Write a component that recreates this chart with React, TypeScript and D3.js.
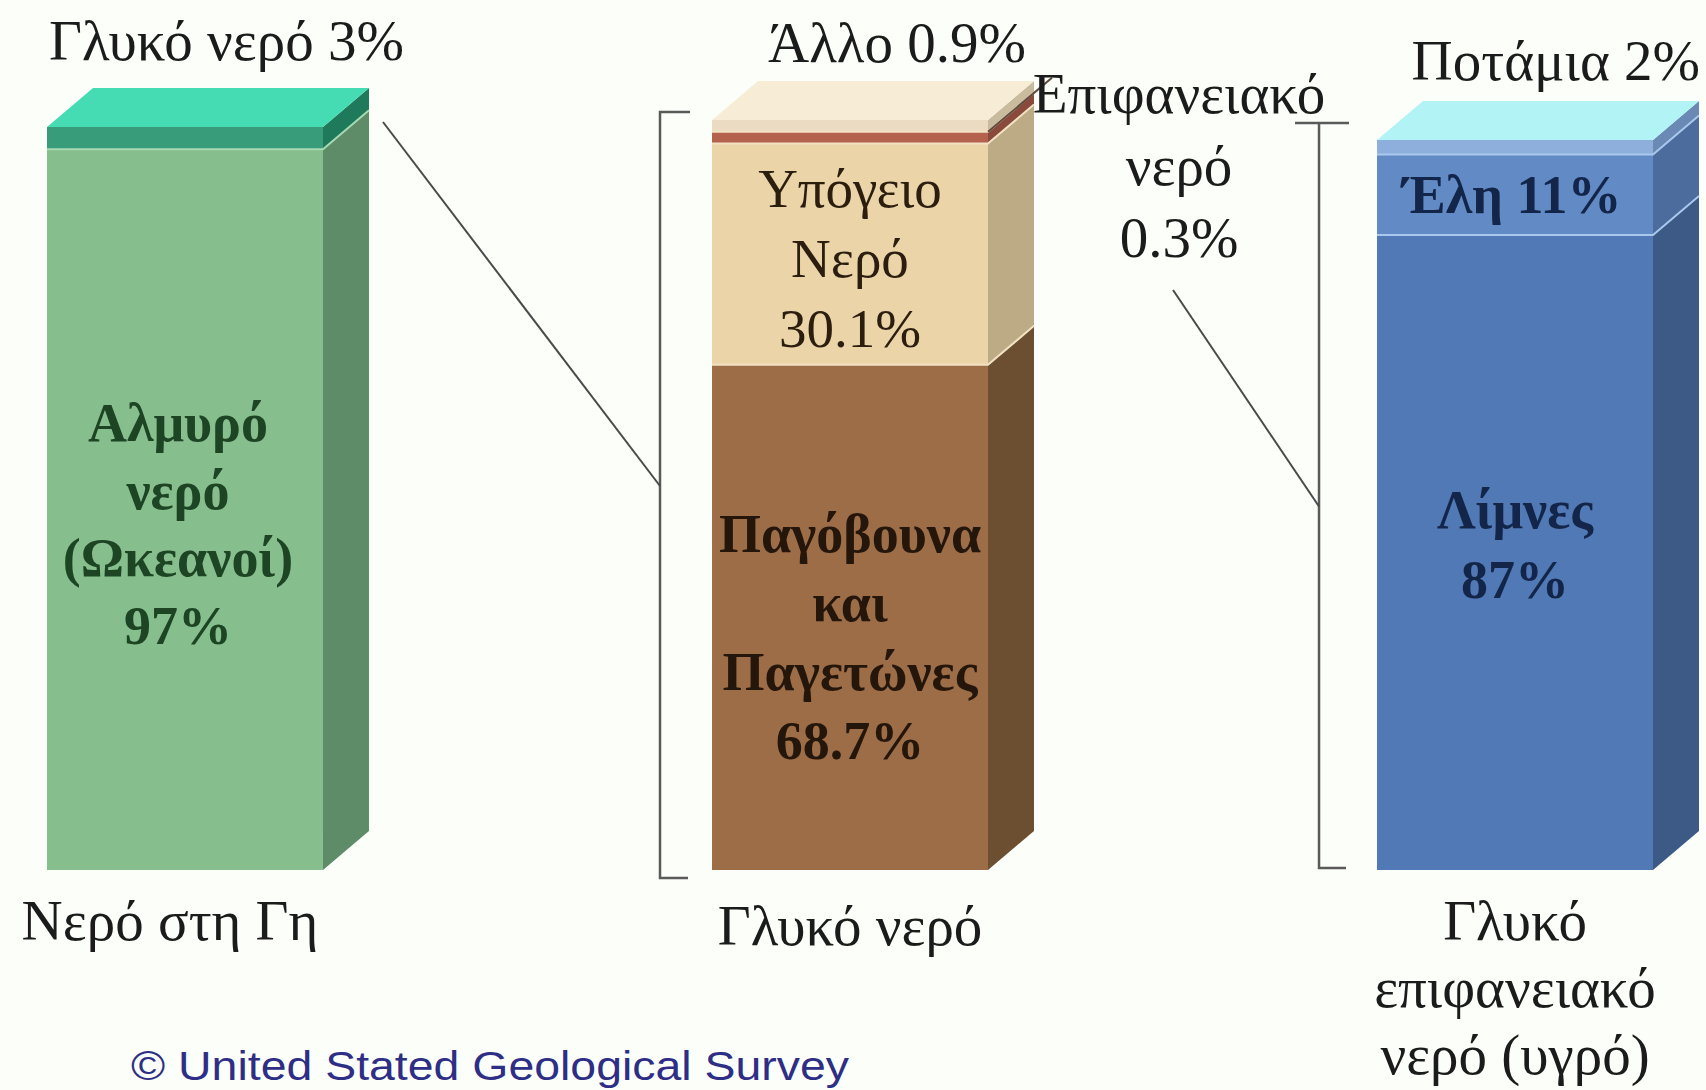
import React from "react";
import * as d3 from "d3";

// Κατανομή του νερού στη Γη (USGS) - three stacked "3D" bars

const barNames = ["earth", "fresh", "surface"];

// bar 1: all water on Earth
const earthSegments = ["Αλμυρό νερό (Ωκεανοί)", "Γλυκό νερό"];
const earthValues = [97, 3];
const earthInnerLabel = ["Αλμυρό", "νερό", "(Ωκεανοί)"];
const earthTopLabel = "Γλυκό νερό";

// bar 2: fresh water
const freshSegments = ["Παγόβουνα και Παγετώνες", "Υπόγειο Νερό", "Επιφανειακό νερό", "Άλλο"];
const freshValues = [68.7, 30.1, 0.3, 0.9];
const iceLabel = ["Παγόβουνα", "και", "Παγετώνες"];
const groundLabel = ["Υπόγειο", "Νερό"];
const otherLabel = "Άλλο";
const surfaceWaterLabel = ["Επιφανειακό", "νερό"];

// bar 3: fresh surface water (liquid)
const surfaceSegments = ["Λίμνες", "Έλη", "Ποτάμια"];
const surfaceValues = [87, 11, 2];

const bottomLabels = [["Νερό στη Γη"], ["Γλυκό νερό"], ["Γλυκό", "επιφανειακό", "νερό (υγρό)"]];
const credit = "© United Stated Geological Survey";

// colours (front, side) per segment, bottom -> top
const earthFront = ["#86be8d", "#389b79"];
const earthSide = ["#5e8c69", "#1f7a5c"];
const freshFront = ["#9d6d47", "#ecd4a9", "#b4614d", "#eadbc2"];
const freshSide = ["#6c4f31", "#bdab85", "#8a4a3b", "#c9bc9e"];
const surfaceFront = ["#5079b5", "#628ac5", "#8eafdc"];
const surfaceSide = ["#3d5a86", "#4b6c9c", "#6a8ab5"];

const W = 1706;
const H = 1090;
const bottomY = 870;
const dx = 46;
const dy = -39;
const minPct = 1.6; // tiny slices still get a visible band
const serif = "'Liberation Serif', 'Times New Roman', serif";
const fs = 57;

const pct = (v: number) => `${v}%`;

function stack(values: number[]) {
  const shown = values.map((v) => Math.max(v, minPct));
  let acc = 0;
  const segs = shown.map((s) => {
    const y0 = acc;
    acc += s;
    return { y0, y1: acc };
  });
  return { segs, total: acc };
}

function Lines({ lines, x, y, step, anchor = "middle", fill = "#1b1b1b", weight = "normal", size = fs }: any) {
  return (
    <text x={x} y={y} textAnchor={anchor} fill={fill} fontFamily={serif} fontSize={size} fontWeight={weight}>
      {lines.map((l: string, i: number) => (
        <tspan key={i} x={x} y={y + i * step}>
          {l}
        </tspan>
      ))}
    </text>
  );
}

function Bar({ x0, width, top, values, front, side, topColor, sep }: any) {
  const { segs, total } = stack(values);
  const y = d3.scaleLinear().domain([0, total]).range([bottomY, top]);
  const x1 = x0 + width;
  const sidePath = (ya: number, yb: number) =>
    d3.line()([
      [x1, ya],
      [x1 + dx, ya + dy],
      [x1 + dx, yb + dy],
      [x1, yb],
    ]) + "Z";
  const yTop = y(total);
  return (
    <g>
      {segs.map((s, i) => (
        <g key={i}>
          <rect x={x0} y={y(s.y1)} width={width} height={y(s.y0) - y(s.y1)} fill={front[i]} />
          <path d={sidePath(y(s.y1), y(s.y0))} fill={side[i]} />
        </g>
      ))}
      {segs.slice(1).map((s, i) => (
        <path
          key={"s" + i}
          d={`M${x0},${y(s.y0)}H${x1}L${x1 + dx},${y(s.y0) + dy}`}
          stroke={sep}
          strokeWidth={2}
          fill="none"
        />
      ))}
      <path
        d={
          d3.line()([
            [x0, yTop],
            [x0 + dx, yTop + dy],
            [x1 + dx, yTop + dy],
            [x1, yTop],
          ]) + "Z"
        }
        fill={topColor}
      />
    </g>
  );
}

export default function App() {
  const x = d3.scaleBand().domain(barNames).range([47, 1653]).paddingInner(0.585).paddingOuter(0);
  const bw = x.bandwidth();
  const xe = x("earth")!;
  const xf = x("fresh")!;
  const xs = x("surface")!;
  const tops = { earth: 127, fresh: 120, surface: 140 };

  const yE = d3.scaleLinear().domain([0, stack(earthValues).total]).range([bottomY, tops.earth]);
  const yF = d3.scaleLinear().domain([0, stack(freshValues).total]).range([bottomY, tops.fresh]);
  const yS = d3.scaleLinear().domain([0, stack(surfaceValues).total]).range([bottomY, tops.surface]);
  const sE = stack(earthValues).segs;
  const sF = stack(freshValues).segs;
  const sS = stack(surfaceValues).segs;

  // brackets grouping the zoomed bars
  const b1 = { x: xf - 52, y0: 112, y1: 878 };
  const b2 = { x: xs - 58, y0: 123, y1: 868 };
  const surfLabelX = b2.x - 140;
  const line = "#4a4a4a";

  // surface-water stripe edge, carried on towards its label
  const redY = yF(sF[2].y1);

  return (
    <svg width={W} height={H} style={{ position: "absolute", left: 0, top: 0, background: "#fcfef9" }}>
      <rect width={W} height={H} fill="#fcfef9" />

      <Bar x0={xe} width={bw} top={tops.earth} values={earthValues} front={earthFront} side={earthSide} topColor="#45dcb4" sep="#a6dab3" />
      <Bar x0={xf} width={bw} top={tops.fresh} values={freshValues} front={freshFront} side={freshSide} topColor="#f7edd7" sep="#f2e2c4" />
      <Bar x0={xs} width={bw} top={tops.surface} values={surfaceValues} front={surfaceFront} side={surfaceSide} topColor="#b2f4f6" sep="#a9c8ee" />

      <line x1={xf + bw} y1={redY} x2={xf + bw + dx + 18} y2={redY + dy - 15} stroke="#5e4a3e" strokeWidth={2} />

      {/* brackets */}
      <path d={`M${b1.x + 30},${b1.y0}H${b1.x}V${b1.y1}H${b1.x + 28}`} stroke="#5a5a5a" strokeWidth={2.5} fill="none" />
      <path d={`M${b2.x - 24},${b2.y0}H${b2.x + 30}M${b2.x},${b2.y0}V${b2.y1}H${b2.x + 27}`} stroke="#5a5a5a" strokeWidth={2.5} fill="none" />

      {/* connectors */}
      <line x1={xe + bw + dx + 14} y1={tops.earth - 5} x2={b1.x} y2={(b1.y0 + b1.y1) / 2 - 9} stroke={line} strokeWidth={2} />
      <line x1={surfLabelX - 6} y1={290} x2={b2.x} y2={(b2.y0 + b2.y1) / 2 + 11} stroke={line} strokeWidth={2} />

      {/* labels above bars */}
      <Lines lines={[`${earthTopLabel} ${pct(earthValues[1])}`]} x={xe + 2} y={60} step={0} anchor="start" />
      <Lines lines={[`${otherLabel} ${pct(freshValues[3])}`]} x={xf + bw + dx - 8} y={62} step={0} anchor="end" />
      <Lines lines={[...surfaceWaterLabel, pct(freshValues[2])]} x={surfLabelX} y={113} step={72} />
      <Lines lines={[`${surfaceSegments[2]} ${pct(surfaceValues[2])}`]} x={W - 6} y={80} step={0} anchor="end" />

      {/* labels inside bars */}
      <Lines
        lines={[...earthInnerLabel, pct(earthValues[0])]}
        x={xe + bw / 2 - 7}
        y={yE(sE[0].y1) + 292}
        step={67.5}
        fill="#1d4423"
        weight="bold"
        size={54}
      />
      <Lines
        lines={[...groundLabel, pct(freshValues[1])]}
        x={xf + bw / 2}
        y={yF(sF[1].y1) + 63}
        step={70}
        fill="#2b1e0e"
        size={55}
      />
      <Lines
        lines={[...iceLabel, pct(freshValues[0])]}
        x={xf + bw / 2}
        y={yF(sF[0].y1) + 187}
        step={69}
        fill="#24160a"
        weight="bold"
        size={54}
      />
      <Lines
        lines={[`${surfaceSegments[1]} ${pct(surfaceValues[1])}`]}
        x={xs + bw / 2 - 3}
        y={yS(sS[1].y0) - 22}
        step={0}
        fill="#13264a"
        weight="bold"
        size={54}
      />
      <Lines
        lines={[surfaceSegments[0], pct(surfaceValues[0])]}
        x={xs + bw / 2}
        y={yS(sS[0].y1) + 293}
        step={70}
        fill="#13264a"
        weight="bold"
        size={54}
      />

      {/* labels below bars */}
      <Lines lines={bottomLabels[0]} x={xe + bw / 2 - 15} y={940} step={0} />
      <Lines lines={bottomLabels[1]} x={xf + bw / 2} y={945} step={0} />
      <Lines lines={bottomLabels[2]} x={xs + bw / 2} y={940} step={67} />

      <text
        x={131}
        y={1080}
        fontFamily="'Liberation Sans', Arial, sans-serif"
        fontSize={40}
        fill="#2e2e86"
        textLength={718}
        lengthAdjust="spacingAndGlyphs"
      >
        {credit}
      </text>
    </svg>
  );
}
